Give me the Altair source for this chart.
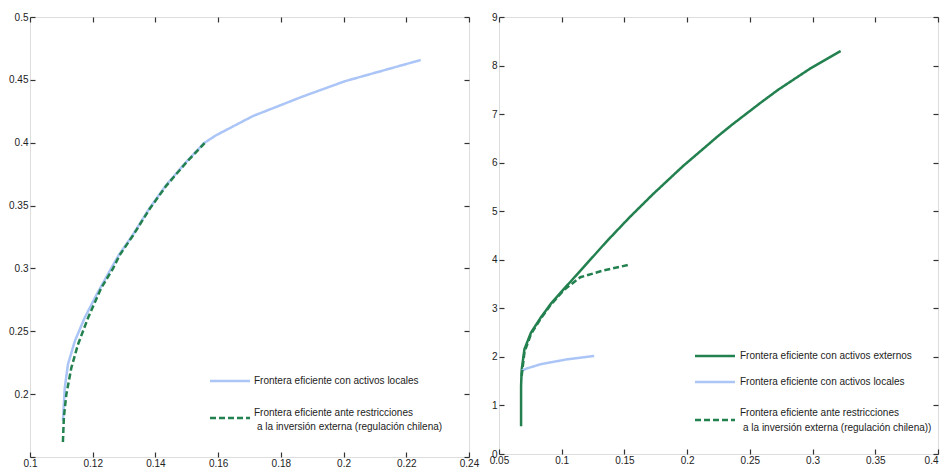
import altair as alt
import pandas as pd

# ---------------- data ----------------
# Left panel
L_loc_x = [0.1105, 0.1111, 0.1121, 0.1143, 0.1174, 0.1212, 0.1259, 0.1283, 0.1327, 0.1380, 0.1433, 0.1497, 0.1555, 0.1594, 0.1711, 0.1868, 0.2004, 0.2246]
L_loc_y = [0.1790, 0.2053, 0.2237, 0.2422, 0.2606, 0.2790, 0.3001, 0.3106, 0.3264, 0.3475, 0.3659, 0.3844, 0.3997, 0.4060, 0.4212, 0.4366, 0.4489, 0.4658]
L_res_x = [0.1105, 0.1108, 0.1116, 0.1132, 0.1153, 0.1185, 0.1227, 0.1265, 0.1286, 0.1329, 0.1382, 0.1435, 0.1499, 0.1557]
L_res_y = [0.1619, 0.1816, 0.2000, 0.2211, 0.2395, 0.2606, 0.2843, 0.3001, 0.3106, 0.3264, 0.3475, 0.3659, 0.3844, 0.3997]

# Right panel
R_ext_x = [0.0676, 0.0676, 0.0681, 0.0703, 0.0755, 0.0833, 0.0912, 0.1018, 0.1175, 0.1359, 0.1543, 0.1727, 0.1963, 0.2252, 0.2357, 0.2594, 0.2725, 0.2988, 0.3224]
R_ext_y = [0.57, 1.40, 1.74, 2.16, 2.50, 2.81, 3.09, 3.40, 3.85, 4.38, 4.88, 5.35, 5.92, 6.56, 6.78, 7.25, 7.50, 7.95, 8.30]
R_loc_x = [0.0676, 0.0720, 0.0833, 0.1044, 0.1259]
R_loc_y = [1.71, 1.76, 1.85, 1.95, 2.02]
R_res_x = [0.0681, 0.0703, 0.0755, 0.0833, 0.0912, 0.1018, 0.1148, 0.1333, 0.1543]
R_res_y = [1.61, 2.10, 2.47, 2.79, 3.07, 3.38, 3.64, 3.78, 3.90]

LBL_EXT = "Frontera eficiente con activos externos"
LBL_LOC = "Frontera eficiente con activos locales"
LBL_RES_1 = "Frontera eficiente ante restricciones"
LBL_RES_2_L = "a la inversión externa (regulación chilena)"
LBL_RES_2_R = "a la inversión externa (regulación chilena))"

L_xticks = [0.1, 0.12, 0.14, 0.16, 0.18, 0.2, 0.22, 0.24]
L_yticks = [0.15, 0.2, 0.25, 0.3, 0.35, 0.4, 0.45, 0.5]
L_ylabels = [0.2, 0.25, 0.3, 0.35, 0.4, 0.45, 0.5]
R_xticks = [0.05, 0.1, 0.15, 0.2, 0.25, 0.3, 0.35, 0.4]
R_xlabels = [0.05, 0.1, 0.15, 0.2, 0.25, 0.3, 0.35]
R_xlabel_last = [0.4]
R_yticks = [0, 1, 2, 3, 4, 5, 6, 7, 8, 9]

GREEN = "#23804f"
BLUE = "#abc5f7"
AXC = "#333333"
TXT = "#222222"
FONT = "Liberation Sans"

SOLID = [1, 0]
DASH = [6, 3]


def frame(series):
    rows = []
    for name, xs, ys in series:
        for i, (a, b) in enumerate(zip(xs, ys)):
            rows.append({"serie": name, "x": a, "y": b, "i": i})
    return pd.DataFrame(rows)


def legend_layers(entries, sx, tx):
    """entries: list of (color, dash, symbol_y, [(text, dx, y), ...])"""
    out = []
    for color, dash, sy, lines in entries:
        out.append(alt.Chart(alt.Data(values=[{}])).mark_rule(
            color=color, strokeWidth=2.5, strokeDash=dash).encode(
            x=alt.value(sx), x2=alt.value(sx + 40), y=alt.value(sy)))
        for text, dx, ty in lines:
            out.append(alt.Chart(alt.Data(values=[{}])).mark_text(
                align="left", baseline="middle", font=FONT, fontSize=10, color=TXT).encode(
                x=alt.value(tx + dx), y=alt.value(ty), text=alt.value(text)))
    return out


def label_axis(orient, vals, align=None):
    kw = dict(orient=orient, values=vals, format="~g", ticks=False, domain=False, grid=False,
              labelFont=FONT, labelFontSize=10, labelColor=TXT, labelFlush=False,
              minExtent=0)
    if orient in ("bottom", "top"):
        kw["labelPadding"] = 1
    else:
        kw["labelPadding"] = 2
    if align:
        kw["labelAlign"] = align
    return alt.Axis(**kw)


def tick_axis(orient, off, vals):
    return alt.Axis(orient=orient, offset=off, values=vals, labels=False, domain=False,
                    grid=False, ticks=True, tickSize=5, tickColor=AXC, tickWidth=1.2,
                    minExtent=0)


def panel(df, xdom, ydom, xt, xlab, yt, ylab, W, H, dom, rng, dashes, legend, xlab_last=None):
    xs = alt.Scale(domain=xdom, nice=False, zero=False)
    ys = alt.Scale(domain=ydom, nice=False, zero=False)
    main = alt.Chart(df).mark_line(strokeWidth=2.5).encode(
        x=alt.X("x:Q", scale=xs, title=None, axis=label_axis("bottom", xlab)),
        y=alt.Y("y:Q", scale=ys, title=None, axis=label_axis("left", ylab)),
        color=alt.Color("serie:N", scale=alt.Scale(domain=dom, range=rng), legend=None),
        strokeDash=alt.StrokeDash("serie:N", scale=alt.Scale(domain=dom, range=dashes), legend=None),
        order="i:Q",
    )
    ta = alt.Chart(df).mark_point(opacity=0).encode(
        x=alt.X("x:Q", scale=xs, title=None, axis=tick_axis("top", -H, xt)),
        y=alt.Y("y:Q", scale=ys, title=None, axis=tick_axis("right", -W, yt)),
    )
    tb = alt.Chart(df).mark_point(opacity=0).encode(
        x=alt.X("x:Q", scale=xs, title=None, axis=tick_axis("bottom", -H, xt)),
        y=alt.Y("y:Q", scale=ys, title=None, axis=tick_axis("left", -W, yt)),
    )
    layers = [main, ta, tb]
    if xlab_last:
        layers.append(alt.Chart(df).mark_point(opacity=0).encode(
            x=alt.X("x:Q", scale=xs, title=None, axis=label_axis("bottom", xlab_last, "right"))))
    return alt.layer(*layers, *legend).resolve_axis(
        x="independent", y="independent").properties(width=W, height=H)


left_df = frame([(LBL_LOC, L_loc_x, L_loc_y), (LBL_RES_1, L_res_x, L_res_y)])
right_df = frame([(LBL_EXT, R_ext_x, R_ext_y), (LBL_LOC, R_loc_x, R_loc_y), (LBL_RES_1 + " ", R_res_x, R_res_y)])

left_leg = legend_layers([
    (BLUE, SOLID, 364, [(LBL_LOC, 0, 364)]),
    (GREEN, DASH, 401, [(LBL_RES_1, 0, 395.5), (LBL_RES_2_L, 3, 410)]),
], 180, 224)
right_leg = legend_layers([
    (GREEN, SOLID, 339, [(LBL_EXT, 0, 339)]),
    (BLUE, SOLID, 365, [(LBL_LOC, 0, 365)]),
    (GREEN, DASH, 403, [(LBL_RES_1, 0, 396), (LBL_RES_2_R, 3, 410.5)]),
], 196, 241)

left = panel(left_df, [0.1, 0.24], [0.15, 0.5], L_xticks, L_xticks, L_yticks, L_ylabels, 439, 440,
             [LBL_LOC, LBL_RES_1], [BLUE, GREEN], [SOLID, DASH], left_leg)
right = panel(right_df, [0.05, 0.4], [0, 9], R_xticks, R_xlabels, R_yticks, R_yticks, 439, 437,
              [LBL_EXT, LBL_LOC, LBL_RES_1 + " "], [GREEN, BLUE, GREEN], [SOLID, SOLID, DASH],
              right_leg, xlab_last=R_xlabel_last)

chart = alt.hconcat(left, right, spacing=30, bounds="flush").resolve_scale(
    color="independent", strokeDash="independent").properties(
    padding={"left": 0, "top": 3, "right": 0, "bottom": 0}
).configure_view(stroke=AXC, strokeWidth=1.3).configure(background="white")

chart.save("out.html", embed_options={"renderer": "svg", "actions": False})
